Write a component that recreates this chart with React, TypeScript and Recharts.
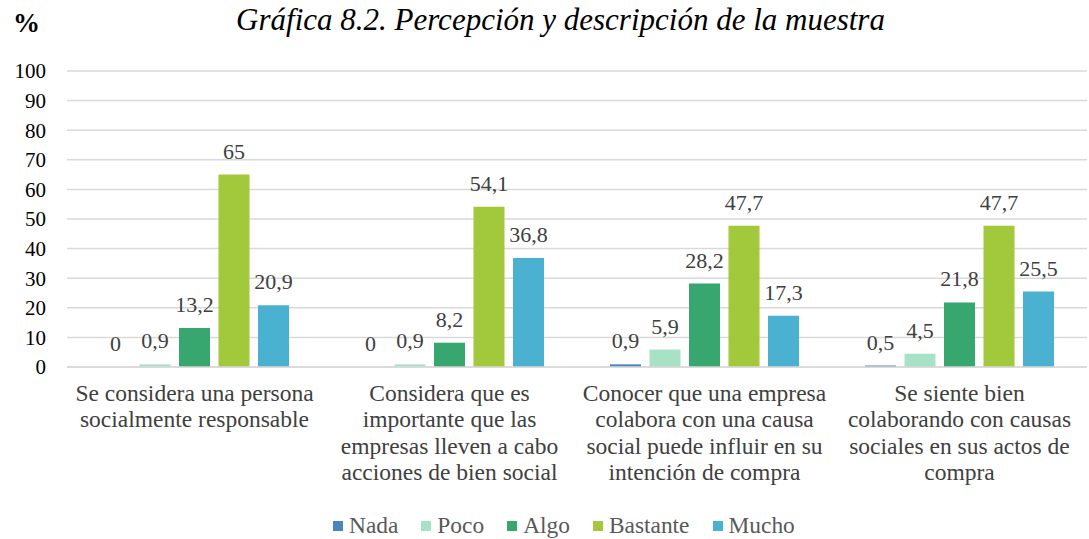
import React from 'react'
import { BarChart, Bar, XAxis, YAxis, CartesianGrid, LabelList } from 'recharts'

const categories = [
  'Se considera una persona\nsocialmente responsable',
  'Considera que es\nimportante que las\nempresas lleven a cabo\nacciones de bien social',
  'Conocer que una empresa\ncolabora con una causa\nsocial puede influir en su\nintención de compra',
  'Se siente bien\ncolaborando con causas\nsociales en sus actos de\ncompra',
]

const nada = [0, 0, 0.9, 0.5]
const poco = [0.9, 0.9, 5.9, 4.5]
const algo = [13.2, 8.2, 28.2, 21.8]
const bastante = [65, 54.1, 47.7, 47.7]
const mucho = [20.9, 36.8, 17.3, 25.5]

const yTicks = [0, 10, 20, 30, 40, 50, 60, 70, 80, 90, 100]

const series = [
  { key: 'nada', name: 'Nada', color: '#4a86be', values: nada },
  { key: 'poco', name: 'Poco', color: '#a8e2c6', values: poco },
  { key: 'algo', name: 'Algo', color: '#37a76f', values: algo },
  { key: 'bastante', name: 'Bastante', color: '#a2c83c', values: bastante },
  { key: 'mucho', name: 'Mucho', color: '#4bb1d0', values: mucho },
]

const data = categories.map((cat, i) => {
  const row: any = { cat }
  series.forEach(s => { row[s.key] = s.values[i] })
  return row
})

const FONT = "'Liberation Serif', 'DejaVu Serif', serif"

// comma as decimal separator, like the original
const fmt = (v: any) => String(v).replace('.', ',')

const CategoryTick = (props: any) => {
  const { x, y, payload } = props
  const lines = String(payload.value).split('\n')
  return (
    <text x={x} y={y} textAnchor="middle" style={{ fontFamily: FONT, fontSize: 23.5 }} fill="#404040">
      {lines.map((line, i) => (
        <tspan key={i} x={x} dy={i === 0 ? 34 : 26.3}>{line}</tspan>
      ))}
    </text>
  )
}

export default function App() {
  return (
    <div style={{ position: 'absolute', left: 0, top: 0, width: 1089, height: 539, background: '#fff', fontFamily: FONT }}>
      <div style={{ position: 'absolute', left: 13, top: 8, fontSize: 27, fontWeight: 'bold', color: '#000' }}>%</div>
      <div style={{ position: 'absolute', left: 0, width: 1121, top: 2, textAlign: 'center', fontSize: 31, fontStyle: 'italic', color: '#000' }}>
        Gráfica 8.2. Percepción y descripción de la muestra
      </div>
      <BarChart
        width={1089}
        height={539}
        data={data}
        margin={{ top: 71, right: 2, left: 0, bottom: 42 }}
        barSize={31}
        barGap={8.5}
        style={{ fontFamily: FONT }}
      >
        <CartesianGrid vertical={false} stroke="#d9d9d9" strokeWidth={1.5} />
        <XAxis
          dataKey="cat"
          height={130}
          interval={0}
          tickLine={false}
          tickSize={0}
          tickMargin={0}
          axisLine={{ stroke: '#d9d9d9', strokeWidth: 1.5 }}
          tick={<CategoryTick />}
        />
        <YAxis
          width={67}
          domain={[0, 100]}
          ticks={yTicks}
          interval={0}
          axisLine={false}
          tickLine={false}
          tickSize={0}
          tickMargin={21}
          tick={{ fontFamily: FONT, fontSize: 21, fill: '#000' }}
        />
        {series.map(s => (
          <Bar key={s.key} dataKey={s.key} name={s.name} fill={s.color} minPointSize={0.01} isAnimationActive={false}>
            <LabelList
              dataKey={s.key}
              position="top"
              offset={16}
              formatter={fmt}
              style={{ fontFamily: FONT, fontSize: 22, fill: '#404040' }}
            />
          </Bar>
        ))}
      </BarChart>
      <div style={{ position: 'absolute', left: 333, top: 512, display: 'flex', fontSize: 23.4, color: '#595959' }}>
        {series.map(s => (
          <div key={s.key} style={{ display: 'flex', alignItems: 'center', marginRight: 23 }}>
            <span style={{ display: 'inline-block', width: 10, height: 10, background: s.color, marginRight: 6 }} />
            <span>{s.name}</span>
          </div>
        ))}
      </div>
    </div>
  )
}
